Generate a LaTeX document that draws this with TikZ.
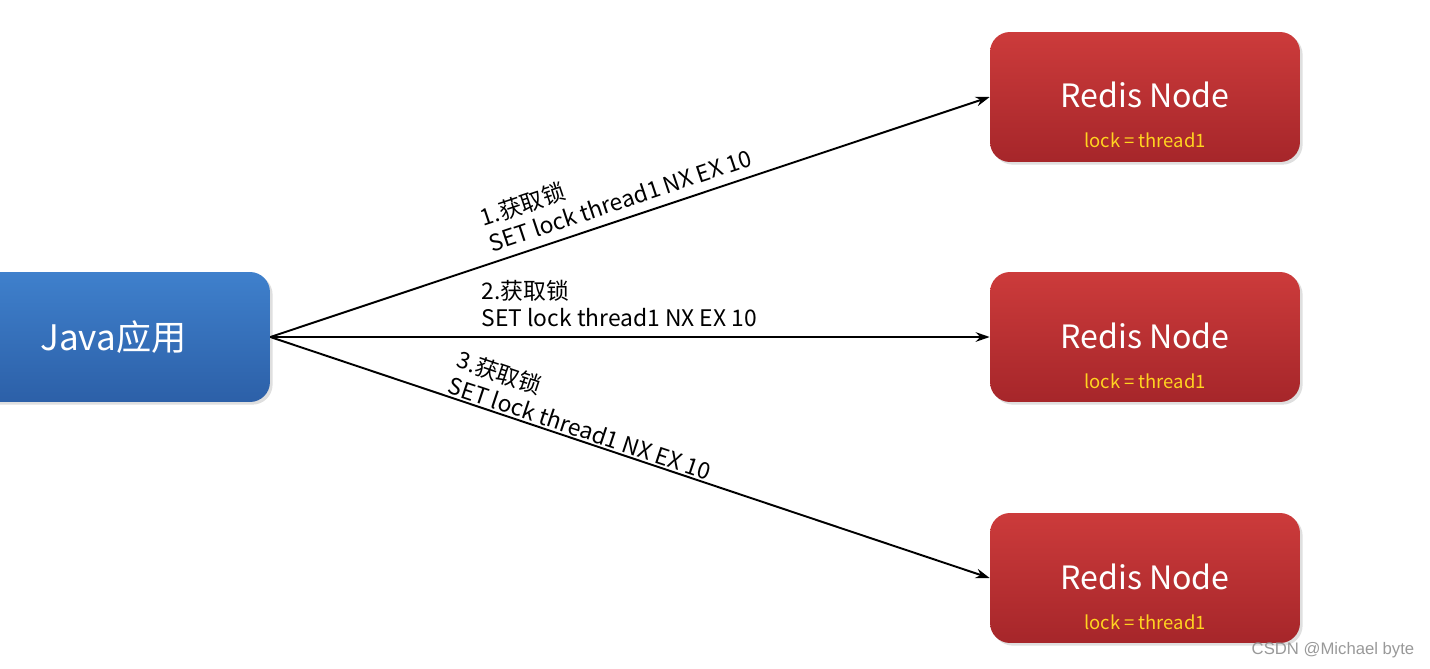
\documentclass[tikz,border=0pt]{standalone}
\usepackage{fontspec}
\setmainfont{Noto Sans CJK SC}
\newfontfamily\wmfont{Liberation Sans}
\usetikzlibrary{arrows.meta,shadows}
\definecolor{apptop}{HTML}{3F80CC}
\definecolor{appbot}{HTML}{2C60A8}
\definecolor{redtop}{HTML}{CC3B3B}
\definecolor{redbot}{HTML}{A6262A}
\definecolor{locktxt}{HTML}{FFD420}
\begin{document}
\begin{tikzpicture}[x=0.02cm,y=-0.02cm,
  appbox/.style={rounded corners=0.4cm,top color=apptop,bottom color=appbot,draw=none,
    minimum width=6.26cm,minimum height=2.6cm,text=white,
    font=\fontsize{20}{24}\selectfont,
    drop shadow={shadow xshift=1.5pt,shadow yshift=-1.5pt,opacity=.25}},
  redisbox/.style={rounded corners=0.4cm,top color=redtop,bottom color=redbot,draw=none,
    minimum width=6.2cm,minimum height=2.6cm,
    drop shadow={shadow xshift=1.5pt,shadow yshift=-1.5pt,opacity=.25}},
  redistitle/.style={anchor=base,text=white,font=\fontsize{18.3}{21}\selectfont},
  redislock/.style={anchor=base,text=locktxt,font=\fontsize{10.5}{12}\selectfont},
  conn/.style={line width=1.1pt,-{Stealth[length=8pt,width=5.5pt]}},
  lbl/.style={align=left,font=\fontsize{13}{15.5}\selectfont,sloped,above}]
\useasboundingbox (0,0) rectangle (1430,669);
\clip (0,0) rectangle (1430,669);
\node[appbox] (java) at (113.5,337) {Java应用};
\node[redisbox] (r1) at (1145,97) {};
\node[redistitle] (r1t) at (1145,108) {Redis Node};
\node[redislock] (r1l) at (1145,148) {lock = thread1};
\node[redisbox] (r2) at (1145,337) {};
\node[redistitle] (r2t) at (1145,348) {Redis Node};
\node[redislock] (r2l) at (1145,388) {lock = thread1};
\node[redisbox] (r3) at (1145,578) {};
\node[redistitle] (r3t) at (1145,589) {Redis Node};
\node[redislock] (r3l) at (1145,629) {lock = thread1};
\draw[conn] (java.east) -- node[lbl,pos=.495,inner sep=5pt] (l1) {1.获取锁\\SET lock thread1 NX EX 10} (r1.west);
\draw[conn] (java.east) -- node[lbl,pos=.485,inner sep=5pt] (l2) {2.获取锁\\SET lock thread1 NX EX 10} (r2.west);
\draw[conn] (java.east) -- node[lbl,pos=.425,inner sep=1pt] (l3) {3.获取锁\\SET lock thread1 NX EX 10} (r3.west);
\node[text=black!40,font=\wmfont\fontsize{9.5}{11}\selectfont] (wm) at (1333,650) {CSDN @Michael byte};
\end{tikzpicture}
\end{document}
